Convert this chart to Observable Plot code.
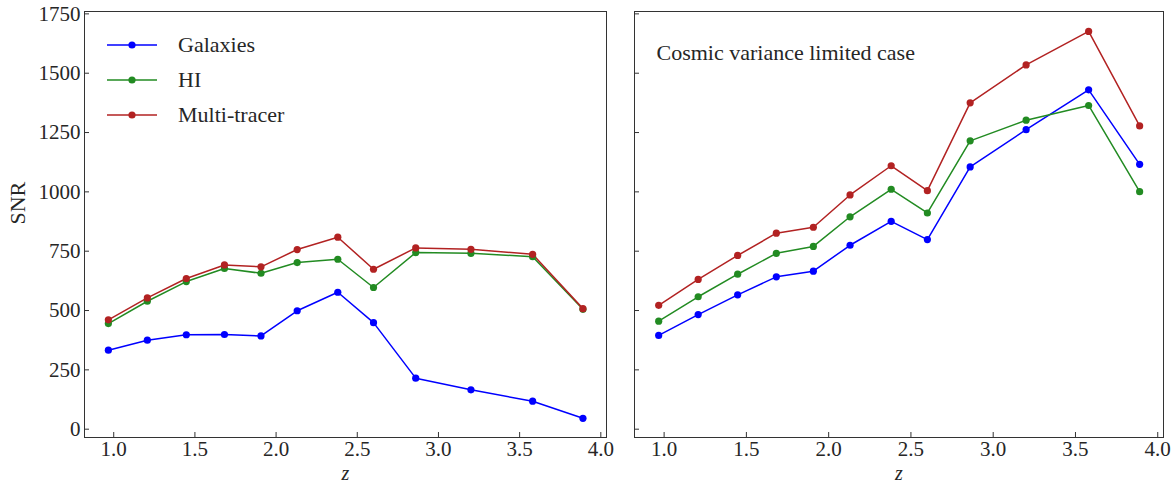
<!DOCTYPE html>
<html><head><meta charset="utf-8">
<script src="https://cdn.jsdelivr.net/npm/d3@7"></script>
<script src="https://cdn.jsdelivr.net/npm/@observablehq/plot@0.6"></script>
<style>
body{margin:0;background:#fff;}
#wrap{position:relative;width:1175px;height:484px;display:flex;overflow:hidden;}
#legend{position:absolute;left:107px;top:27px;font-family:"Liberation Serif","DejaVu Serif",serif;font-size:22px;color:#262626;}
#legend .row{display:flex;align-items:center;height:35px;}
#legend svg{margin-right:21px;}
</style></head><body><div id="wrap"></div>
<script>
const z = [0.967, 1.207, 1.447, 1.682, 1.907, 2.13, 2.38, 2.60, 2.86, 3.20, 3.58, 3.89];
// left panel
const galaxiesLeft = [333, 375, 398, 399, 393, 499, 577, 449, 215, 166, 118, 46];
const hiLeft = [445, 539, 622, 677, 657, 702, 716, 597, 744, 741, 727, 505];
const multiLeft = [461, 553, 635, 692, 684, 757, 809, 674, 764, 758, 737, 508];
// right panel (cosmic variance limited)
const galaxiesRight = [395, 483, 566, 642, 666, 775, 876, 799, 1105, 1262, 1430, 1116];
const hiRight = [455, 558, 653, 741, 770, 895, 1011, 911, 1215, 1302, 1364, 1001];
const multiRight = [522, 631, 732, 826, 851, 987, 1110, 1005, 1375, 1535, 1676, 1278];
const yTicks = [0, 250, 500, 750, 1000, 1250, 1500, 1750];
const xTicks = [1.0, 1.5, 2.0, 2.5, 3.0, 3.5, 4.0];
const seriesNames = ["Galaxies", "HI", "Multi-tracer"];
const colors = ["#0000ff", "#228b22", "#b22222"];
const noteText = "Cosmic variance limited case";

function rows(arrs) {
  return arrs.flatMap((a, i) => a.map((v, j) => ({z: z[j], snr: v, s: seriesNames[i]})));
}
const font = '"Liberation Serif", "DejaVu Serif", serif';
function panel({data, width, marginLeft, marginRight, showY, note}) {
  const marks = [
    Plot.frame({stroke: "#333", strokeWidth: 1}),
    Plot.axisX(xTicks, {tickSize: -5, tickPadding: 9, fontSize: 21, tickFormat: d => d.toFixed(1), label: null, stroke: "#333"}),
    Plot.axisY(yTicks, {tickSize: -5, tickPadding: 9, fontSize: 21, tickFormat: showY ? d => String(d) : () => "", label: null, stroke: "#333"}),
    Plot.lineY(data, {x: "z", y: "snr", stroke: "s", strokeWidth: 1.5}),
    Plot.dot(data, {x: "z", y: "snr", fill: "s", r: 3.6}),
    Plot.text(["z"], {frameAnchor: "bottom", dy: 42, lineAnchor: "bottom", text: d => d, fontStyle: "italic", fontSize: 20, fill: "#262626"})
  ];
  if (showY) marks.push(Plot.text(["SNR"], {frameAnchor: "left", dx: -67, rotate: -90, text: d => d, fontSize: 22, fill: "#262626"}));
  if (note) marks.push(Plot.text([note], {frameAnchor: "top-left", dx: 22, dy: 33, text: d => d, textAnchor: "start", fontSize: 22, fill: "#262626"}));
  return Plot.plot({
    width, height: 484, marginTop: 11, marginBottom: 47, marginLeft, marginRight,
    style: {fontFamily: font, fontSize: "21px", color: "#262626", background: "white"},
    x: {domain: [0.82, 4.035]},
    y: {domain: [-35, 1760]},
    color: {domain: seriesNames, range: colors},
    marks
  });
}
const wrap = document.getElementById("wrap");
wrap.append(panel({data: rows([galaxiesLeft, hiLeft, multiLeft]), width: 620, marginLeft: 84, marginRight: 14, showY: true}));
wrap.append(panel({data: rows([galaxiesRight, hiRight, multiRight]), width: 555, marginLeft: 14, marginRight: 12, showY: false, note: noteText}));

const legend = document.createElement("div");
legend.id = "legend";
seriesNames.forEach((n, i) => {
  const row = document.createElement("div");
  row.className = "row";
  row.innerHTML = `<svg width="50" height="12"><line x1="0" y1="6" x2="50" y2="6" stroke="${colors[i]}" stroke-width="1.5"/><circle cx="25" cy="6" r="3.6" fill="${colors[i]}"/></svg><span>${n}</span>`;
  legend.append(row);
});
wrap.append(legend);
</script></body></html>
